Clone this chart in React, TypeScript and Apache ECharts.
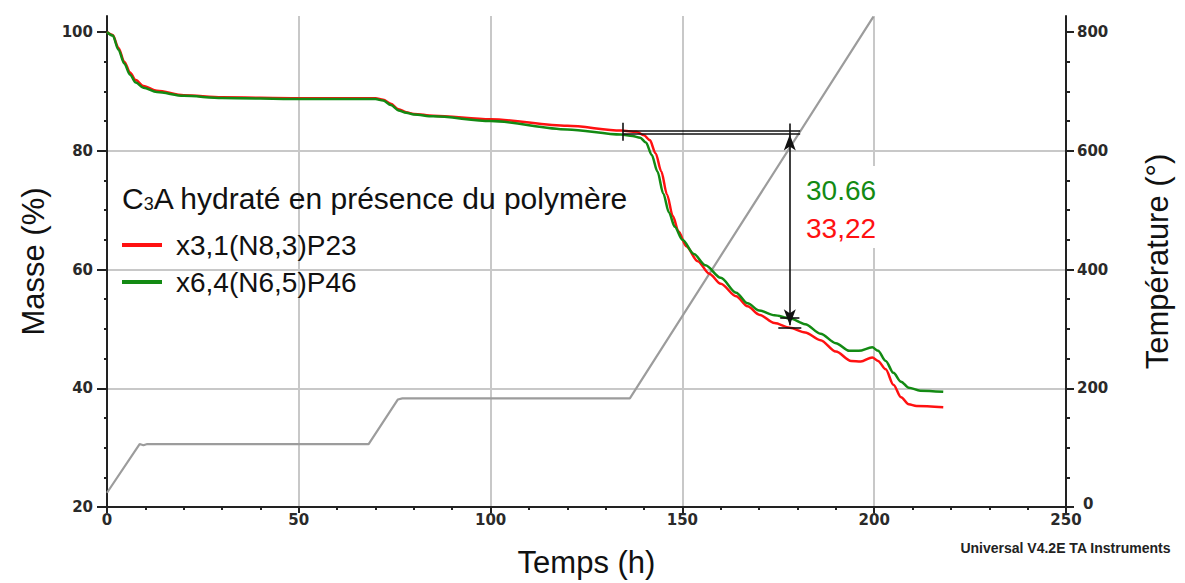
import React, { useEffect, useRef } from "react";
import * as echarts from "echarts";

// ---- data ----
const timeTicks = [0, 50, 100, 150, 200, 250];
const massTicks = [20, 40, 60, 80, 100];
const tempTicks = [0, 200, 400, 600, 800];

const seriesNames = ["x3,1(N8,3)P23", "x6,4(N6,5)P46"];

// mass (%) vs time (h)
const massRed: [number, number][] = [
  [0, 100], [1.5, 99.5], [3, 97.3], [4.5, 95.0], [6, 93.2], [7.5, 91.9], [9.5, 90.9], [13, 90.1],
  [20, 89.35], [30, 89.0], [50, 88.85], [70, 88.85], [72, 88.6], [74, 87.9], [76, 87.0],
  [78, 86.5], [80, 86.2], [85, 85.9], [100, 85.3], [120, 84.2], [134, 83.4], [138, 83.2],
  [140, 82.6], [141.5, 81.8], [143, 79.6], [144.5, 76.5], [146, 72.6], [147.5, 69.0],
  [149, 66.4], [151, 63.9], [154, 61.4], [157, 59.3], [160, 57.6], [164, 55.5], [167, 53.8],
  [170, 52.4], [174, 51.0], [178, 50.2], [182, 49.4], [186, 48.1], [190, 46.2], [194, 44.6],
  [196.5, 44.5], [199.5, 45.2], [201, 44.6], [203, 43.2], [205, 40.6], [207, 38.5],
  [209, 37.3], [211, 37.0], [218, 36.8],
];
const massGreen: [number, number][] = [
  [0, 100], [1.5, 99.4], [3, 97.0], [4.5, 94.7], [6, 92.8], [7.5, 91.5], [9.5, 90.6], [13, 89.9],
  [20, 89.25], [30, 88.9], [50, 88.7], [70, 88.7], [72, 88.45], [74, 87.7], [76, 86.8],
  [78, 86.4], [80, 86.1], [85, 85.8], [100, 85.0], [120, 83.6], [134, 82.75], [137, 82.5],
  [139, 82.2], [140.5, 81.4], [142, 79.3], [143.5, 76.5], [145, 72.8], [146.5, 69.6],
  [148, 67.2], [150, 65.0], [153, 62.6], [156, 60.7], [160, 58.6], [164, 56.1], [167, 54.3],
  [170, 53.1], [174, 52.3], [178, 51.8], [182, 50.8], [186, 49.2], [190, 47.6], [193.5, 46.3],
  [196, 46.3], [199.5, 46.9], [201, 46.3], [203, 44.6], [205, 42.6], [207, 41.1],
  [209, 40.1], [212, 39.6], [218, 39.4],
];
// temperature (°) vs time (h)
const temperature: [number, number][] = [
  [0, 24], [8.5, 106], [9.5, 104], [10.5, 106], [68.2, 106], [75.8, 181], [77, 183],
  [136.3, 183], [199.8, 826],
];

// annotation (step analysis)
const stepStart = 134.5;
const stepEnd = 180.7;
const stepX = 178;
const redTop = 83.35;
const redBottom = 50.2;
const greenTop = 82.85;
const greenBottom = 51.9;
const lossGreen = "30.66";
const lossRed = "33,22";

const RED = "#ff1111";
const GREEN = "#138a13";
const GRID = "#c8c8c8";
const FONT = "Liberation Sans, Arial, sans-serif";
const TICKFONT = "DejaVu Sans, sans-serif";

export default function App() {
  const ref = useRef<HTMLDivElement>(null);
  useEffect(() => {
    if (!ref.current) return;
    const chart = echarts.init(ref.current, undefined, { renderer: "svg" });
    const tickLabel = {
      fontFamily: TICKFONT,
      fontSize: 15,
      lineHeight: 12,
      fontWeight: "bold" as const,
      color: "#2a2a2a",
    };
    const nameStyle = { fontFamily: FONT, fontSize: 31, color: "#111" };
    const axisLine = { show: true, onZero: false, lineStyle: { color: "#222", width: 2 } };
    const markBase = {
      silent: true,
      symbol: "none",
      label: { show: false },
      emphasis: { disabled: true },
      lineStyle: { color: "#111", type: "solid" as const, width: 1.6 },
    };
    chart.setOption({
      animation: false,
      backgroundColor: "#ffffff",
      grid: { left: 107, right: 119, top: 16, bottom: 75, containLabel: false },
      legend: {
        data: seriesNames,
        orient: "vertical",
        left: 122,
        top: 231,
        icon: "rect",
        itemWidth: 40,
        itemHeight: 4,
        itemGap: 9,
        padding: 0,
        textStyle: { fontFamily: FONT, fontSize: 28, color: "#111", padding: [0, 0, 0, 9] },
        selectedMode: false,
      },
      xAxis: {
        type: "value",
        min: 0,
        max: 250,
        interval: 50,
        name: "Temps (h)",
        nameLocation: "middle",
        nameGap: 40,
        nameTextStyle: nameStyle,
        axisLine,
        axisTick: { show: true, length: 6, lineStyle: { color: "#222", width: 2 } },
        minorTick: { show: true, splitNumber: 5, length: 3, lineStyle: { color: "#222", width: 2 } },
        axisLabel: { ...tickLabel, margin: 7, customValues: timeTicks },
        splitLine: { show: true, lineStyle: { color: GRID, width: 2 } },
      },
      yAxis: [
        {
          type: "value",
          min: 20,
          max: 102.7,
          interval: 20,
          name: "Masse (%)",
          nameLocation: "middle",
          nameGap: 58,
          nameTextStyle: nameStyle,
          axisLine,
          axisTick: { show: true, length: 10, customValues: massTicks, lineStyle: { color: "#222", width: 2 } },
          minorTick: { show: true, splitNumber: 4, length: 3, lineStyle: { color: "#222", width: 2 } },
          axisLabel: { ...tickLabel, margin: 14, customValues: massTicks },
          splitLine: { show: true, showMaxLine: false, lineStyle: { color: GRID, width: 2 } },
        },
        {
          type: "value",
          position: "right",
          min: 0,
          max: 827,
          interval: 200,
          name: "Température (°)",
          nameLocation: "middle",
          nameGap: 76,
          nameTextStyle: nameStyle,
          axisLine,
          axisTick: { show: true, length: 8, customValues: tempTicks, lineStyle: { color: "#222", width: 2 } },
          minorTick: { show: true, splitNumber: 4, length: 4, lineStyle: { color: "#222", width: 2 } },
          axisLabel: {
            ...tickLabel,
            margin: 11,
            customValues: tempTicks,
            formatter: (v: number) => (v === 0 ? "{z|0}" : String(v)),
            rich: {
              z: { ...tickLabel, padding: [0, 0, 6, 6] },
            },
          },
          splitLine: { show: false },
        },
      ],
      graphic: [
        {
          type: "rect",
          z: 1,
          shape: { x: 795, y: 166, width: 96, height: 82 },
          style: { fill: "#ffffff" },
        },
        {
          type: "text",
          z: 10,
          x: 806,
          y: 190,
          style: { text: lossGreen, fill: GREEN, font: `28px ${FONT}`, verticalAlign: "middle" },
        },
        {
          type: "text",
          z: 10,
          x: 806,
          y: 228,
          style: { text: lossRed, fill: RED, font: `28px ${FONT}`, verticalAlign: "middle" },
        },
        {
          type: "text",
          z: 10,
          x: 122,
          y: 198,
          style: {
            text: "C{sub|3}A hydraté en présence du polymère",
            fill: "#111",
            font: `30px ${FONT}`,
            verticalAlign: "middle",
            rich: {
              sub: { fontSize: 18, fontFamily: FONT, fill: "#111", verticalAlign: "bottom", padding: [12, 0, 0, 0] },
            },
          },
        },
        {
          type: "text",
          z: 10,
          right: 14,
          y: 541,
          style: {
            text: "Universal V4.2E TA Instruments",
            fill: "#222",
            font: `bold 14px ${FONT}`,
          },
        },
      ],
      series: [
        {
          name: "Température",
          type: "line",
          yAxisIndex: 1,
          data: temperature,
          showSymbol: false,
          silent: true,
          lineStyle: { color: "#9c9c9c", width: 2.2 },
          itemStyle: { color: "#9c9c9c" },
          z: 2,
        },
        {
          name: seriesNames[0],
          type: "line",
          yAxisIndex: 0,
          data: massRed,
          showSymbol: false,
          smooth: 0.3,
          smoothMonotone: "x",
          lineStyle: { color: RED, width: 2.5 },
          itemStyle: { color: RED },
          z: 3,
          markLine: {
            ...markBase,
            data: [
              [{ coord: [stepStart, redTop] }, { coord: [stepEnd, redTop] }],
              [{ coord: [stepStart, 84.7] }, { coord: [stepStart, 81.7] }],
              [{ coord: [stepX, 84.6] }, { coord: [stepX, 82.6] }],
              [
                { coord: [stepX, redTop - 0.6], symbol: "arrow", symbolSize: [9, 16] },
                { coord: [stepX, redBottom + 0.4], symbol: "arrow", symbolSize: [9, 16] },
              ],
              [{ coord: [stepX - 3, redBottom] }, { coord: [stepX + 3, redBottom] }],
            ],
          },
        },
        {
          name: seriesNames[1],
          type: "line",
          yAxisIndex: 0,
          data: massGreen,
          showSymbol: false,
          smooth: 0.3,
          smoothMonotone: "x",
          lineStyle: { color: GREEN, width: 2.5 },
          itemStyle: { color: GREEN },
          z: 3,
          markLine: {
            ...markBase,
            data: [
              [{ coord: [stepStart, greenTop] }, { coord: [stepEnd, greenTop] }],
              [{ coord: [stepX - 2.5, greenBottom] }, { coord: [stepX + 2.5, greenBottom] }],
            ],
          },
        },
      ],
    });
    return () => chart.dispose();
  }, []);
  return <div ref={ref} style={{ width: 1185, height: 583, position: "absolute", left: 0, top: 0 }} />;
}
